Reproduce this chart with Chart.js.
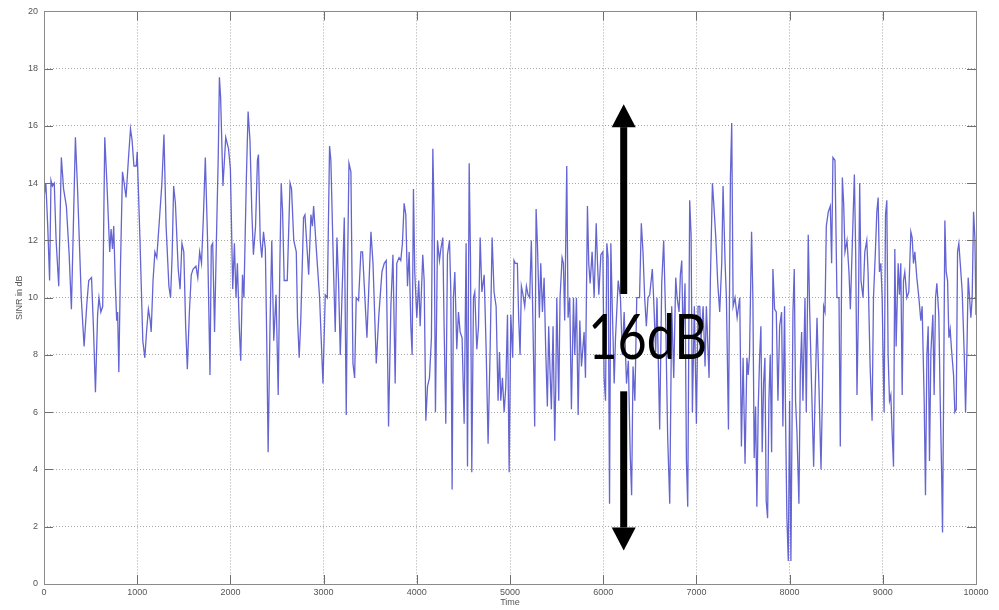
<!DOCTYPE html>
<html>
<head>
<meta charset="utf-8">
<title>SINR over time</title>
<script src="https://cdn.jsdelivr.net/npm/chart.js@4.4.1/dist/chart.umd.min.js"></script>
<style>
    html, body {
        margin: 0;
        padding: 0;
        background: #fff;
    }
    #sinrChart {
        display: block;
    }
</style>
</head>
<body>
<canvas id="sinrChart" width="999" height="610"></canvas>
<script>

// sample times and measured SINR (dB)
const times = [
    0, 20, 40, 60, 75, 90, 110, 130, 158, 186, 210, 240, 270, 294, 315, 337, 360, 400, 430, 460,
    480, 510, 530, 552, 575, 590, 610, 630, 652, 675, 705, 720, 735, 748, 765, 780, 790, 803, 820, 842,
    860, 880, 905, 928, 945, 965, 990, 1000, 1030, 1060, 1082, 1100, 1120, 1140, 1150, 1170, 1190, 1210, 1240, 1265,
    1287, 1310, 1340, 1358, 1375, 1391, 1410, 1440, 1460, 1480, 1500, 1520, 1538, 1560, 1580, 1600, 1630, 1650, 1670, 1690,
    1710, 1731, 1755, 1781, 1795, 1810, 1830, 1850, 1870, 1882, 1895, 1920, 1950, 1980, 2000, 2025, 2043, 2060, 2075, 2095,
    2111, 2130, 2145, 2170, 2190, 2210, 2230, 2247, 2270, 2290, 2301, 2320, 2337, 2355, 2375, 2390, 2405, 2425, 2444, 2465,
    2490, 2513, 2530, 2545, 2560, 2577, 2610, 2640, 2656, 2680, 2707, 2720, 2738, 2755, 2785, 2800, 2840, 2864, 2880, 2893,
    2928, 2957, 2993, 3018, 3040, 3064, 3078, 3107, 3125, 3143, 3160, 3179, 3197, 3222, 3243, 3258, 3272, 3293, 3315, 3333,
    3350, 3375, 3400, 3418, 3465, 3508, 3530, 3565, 3593, 3626, 3651, 3672, 3697, 3722, 3744, 3768, 3785, 3810, 3828, 3846,
    3864, 3882, 3900, 3918, 3936, 3950, 3964, 3978, 4000, 4021, 4036, 4064, 4079, 4097, 4115, 4136, 4157, 4172, 4186, 4200,
    4222, 4243, 4258, 4279, 4293, 4311, 4329, 4351, 4365, 4379, 4393, 4408, 4429, 4447, 4465, 4486, 4508, 4529, 4544, 4562,
    4576, 4590, 4608, 4622, 4644, 4662, 4680, 4698, 4723, 4744, 4765, 4787, 4808, 4829, 4851, 4872, 4887, 4901, 4919, 4937,
    4955, 4973, 4991, 5009, 5029, 5043, 5057, 5079, 5093, 5108, 5122, 5140, 5158, 5176, 5194, 5211, 5229, 5244, 5265, 5280,
    5294, 5315, 5330, 5348, 5366, 5383, 5401, 5415, 5430, 5444, 5462, 5480, 5491, 5502, 5523, 5537, 5559, 5573, 5587, 5609,
    5623, 5641, 5659, 5681, 5695, 5713, 5731, 5749, 5767, 5795, 5810, 5831, 5845, 5860, 5881, 5903, 5925, 5939, 5953, 5975,
    5996, 6010, 6025, 6039, 6053, 6068, 6082, 6097, 6118, 6132, 6161, 6185, 6205, 6225, 6250, 6270, 6290, 6305, 6320, 6340,
    6360, 6390, 6409, 6427, 6445, 6463, 6481, 6499, 6527, 6541, 6563, 6577, 6606, 6628, 6649, 6670, 6692, 6714, 6735, 6757,
    6778, 6793, 6814, 6828, 6843, 6857, 6878, 6893, 6907, 6928, 6943, 6957, 6978, 7000, 7018, 7036, 7050, 7072, 7093, 7107,
    7136, 7150, 7172, 7186, 7208, 7229, 7250, 7272, 7286, 7308, 7322, 7344, 7365, 7379, 7394, 7415, 7437, 7465, 7483, 7501,
    7522, 7542, 7556, 7570, 7592, 7606, 7620, 7635, 7649, 7663, 7678, 7692, 7706, 7721, 7735, 7749, 7764, 7778, 7792, 7807,
    7821, 7839, 7857, 7875, 7893, 7914, 7928, 7946, 7957, 7971, 7986, 8000, 8014, 8036, 8050, 8064, 8079, 8100, 8115, 8129,
    8143, 8165, 8179, 8200, 8215, 8236, 8258, 8272, 8294, 8315, 8337, 8351, 8365, 8380, 8394, 8415, 8437, 8451, 8465, 8487,
    8508, 8530, 8544, 8566, 8580, 8594, 8616, 8637, 8652, 8673, 8695, 8709, 8723, 8738, 8752, 8766, 8788, 8807, 8828, 8842,
    8864, 8885, 8900, 8918, 8936, 8950, 8964, 8979, 8993, 9007, 9014, 9029, 9043, 9057, 9072, 9086, 9100, 9115, 9129, 9143,
    9165, 9179, 9193, 9208, 9222, 9236, 9258, 9279, 9301, 9315, 9329, 9344, 9365, 9387, 9408, 9422, 9444, 9458, 9473, 9487,
    9501, 9516, 9537, 9551, 9566, 9580, 9601, 9616, 9630, 9641, 9652, 9666, 9680, 9695, 9709, 9723, 9737, 9759, 9773, 9788,
    9802, 9816, 9831, 9852, 9874, 9888, 9902, 9916, 9931, 9945, 9959, 9974, 9988, 10000
]

const sinr = [
    13.5, 14.0, 12.5, 10.6, 14.1, 13.9, 14.0, 12.0, 10.4, 14.9, 13.8, 13.2, 11.5, 9.6, 12.5, 15.6, 13.8, 10.0, 8.3, 9.8,
    10.6, 10.7, 9.0, 6.7, 9.4, 10.0, 9.5, 9.7, 15.6, 14.0, 11.6, 12.4, 11.7, 12.5, 10.5, 9.2, 9.5, 7.4, 11.0, 14.4,
    14.0, 13.5, 14.8, 15.9, 15.5, 14.6, 14.6, 15.1, 12.0, 8.5, 7.9, 8.8, 9.6, 9.2, 8.8, 10.6, 11.6, 11.4, 12.8, 14.0,
    15.7, 12.5, 10.4, 10.0, 11.5, 13.9, 13.3, 11.0, 10.3, 11.9, 11.6, 9.0, 7.5, 9.5, 10.8, 11.0, 11.1, 10.7, 11.6, 11.2,
    12.8, 14.9, 12.0, 7.3, 11.8, 11.9, 8.8, 12.0, 15.0, 17.7, 17.0, 13.9, 15.6, 15.2, 14.5, 10.3, 11.9, 10.0, 11.2, 9.0,
    7.8, 10.8, 10.0, 14.0, 16.5, 15.5, 13.0, 11.5, 12.5, 14.8, 15.0, 12.0, 11.4, 12.3, 11.7, 8.5, 4.6, 9.0, 12.0, 8.5,
    10.1, 6.6, 11.0, 14.0, 13.0, 10.6, 10.6, 14.0, 13.8, 12.0, 11.6, 9.3, 7.9, 9.2, 12.8, 12.9, 10.8, 12.9, 12.5, 13.2,
    11.4, 10.0, 7.0, 10.1, 10.0, 15.3, 14.8, 10.9, 8.8, 12.1, 10.6, 8.0, 10.0, 12.8, 5.9, 11.2, 14.7, 14.4, 7.7, 7.2,
    10.0, 9.9, 11.6, 11.6, 8.6, 12.3, 11.2, 7.7, 9.4, 10.9, 11.2, 11.3, 5.5, 9.7, 11.5, 7.0, 11.2, 11.4, 11.3, 11.9,
    13.3, 12.9, 10.4, 11.6, 9.0, 8.0, 13.8, 10.9, 9.3, 10.6, 9.0, 11.5, 10.6, 5.7, 6.9, 7.2, 8.6, 15.2, 12.9, 6.0,
    12.0, 11.3, 11.7, 12.1, 9.0, 5.6, 11.5, 12.0, 10.2, 3.3, 10.0, 10.9, 8.2, 9.5, 8.8, 8.6, 5.6, 11.9, 4.1, 14.7,
    11.4, 3.9, 10.0, 10.2, 8.2, 9.0, 12.1, 10.2, 10.8, 8.2, 4.9, 8.2, 12.1, 10.2, 9.7, 6.4, 8.1, 6.4, 7.2, 6.0,
    6.9, 9.4, 3.9, 9.4, 7.9, 11.3, 11.2, 11.2, 9.3, 8.0, 10.4, 10.1, 9.7, 10.4, 10.1, 10.0, 12.0, 9.5, 5.5, 13.1,
    11.9, 9.3, 11.2, 9.5, 10.7, 8.2, 6.2, 9.0, 7.4, 6.1, 9.0, 5.0, 6.9, 10.0, 6.4, 10.0, 11.4, 11.2, 9.2, 14.6,
    9.3, 10.0, 6.1, 10.0, 8.0, 10.0, 5.9, 9.2, 7.6, 8.8, 7.2, 13.2, 11.2, 10.5, 11.6, 10.0, 12.6, 11.2, 10.1, 11.5,
    11.6, 7.2, 6.4, 11.9, 11.4, 2.8, 11.9, 9.7, 7.0, 8.6, 10.6, 10.0, 8.0, 9.5, 7.0, 7.8, 4.5, 3.1, 7.6, 6.4,
    10.0, 10.0, 12.6, 11.6, 10.0, 9.0, 10.0, 10.1, 11.0, 10.0, 8.1, 10.0, 5.4, 10.5, 12.0, 9.3, 5.1, 2.8, 9.7, 7.2,
    10.7, 10.0, 9.5, 10.8, 11.3, 8.5, 10.5, 4.3, 2.7, 13.4, 12.2, 6.0, 9.7, 5.6, 9.7, 9.7, 8.5, 9.7, 7.6, 9.7,
    7.2, 10.6, 14.0, 13.3, 12.1, 10.5, 9.5, 11.2, 13.9, 11.2, 10.0, 5.4, 14.2, 16.1, 9.7, 10.0, 9.3, 10.0, 4.8, 7.9,
    4.2, 7.9, 7.3, 8.0, 12.3, 10.0, 4.4, 6.2, 2.7, 6.1, 7.9, 9.0, 4.6, 7.0, 7.9, 2.9, 2.3, 6.4, 8.0, 4.6,
    11.0, 9.6, 9.5, 6.4, 9.0, 9.5, 5.5, 9.7, 5.7, 2.3, 0.8, 6.4, 0.8, 9.5, 11.0, 6.4, 5.3, 2.8, 7.4, 8.8,
    6.4, 10.0, 6.0, 12.2, 9.6, 6.9, 4.1, 6.4, 9.3, 6.9, 4.0, 6.4, 9.7, 9.5, 12.5, 13.0, 13.2, 11.2, 14.9, 14.8,
    10.0, 10.0, 4.8, 14.2, 13.3, 11.6, 12.0, 10.9, 9.6, 11.9, 14.3, 11.6, 6.6, 9.5, 14.0, 10.6, 10.0, 11.6, 12.0, 10.9,
    7.6, 5.7, 10.0, 11.4, 13.0, 13.5, 10.9, 11.2, 10.0, 7.2, 6.0, 12.9, 13.4, 8.0, 6.4, 6.6, 5.3, 4.1, 11.7, 8.3,
    11.2, 10.1, 11.2, 6.6, 10.6, 10.9, 10.0, 10.2, 12.3, 12.1, 11.2, 11.6, 10.7, 10.0, 9.2, 9.7, 6.4, 3.1, 8.0, 9.0,
    4.3, 8.1, 9.4, 6.6, 10.0, 10.5, 9.4, 6.4, 4.1, 1.8, 6.4, 12.7, 10.9, 10.6, 8.6, 8.9, 8.2, 7.3, 6.0, 6.1,
    11.6, 11.9, 11.2, 10.2, 8.0, 6.0, 8.0, 10.7, 10.0, 9.3, 10.0, 13.0, 12.1, 9.4
]

const xTicks = [0, 1000, 2000, 3000, 4000, 5000, 6000, 7000, 8000, 9000, 10000]
const yTicks = [0, 2, 4, 6, 8, 10, 12, 14, 16, 18, 20]

// spread marker: double arrow with a label in the middle
const spreadLabel = "16dB"
const spreadAt = 6220
const spreadTop = 16.76
const spreadBottom = 1.17
const spreadGap = [6.73, 10.13]
const spreadTextAt = 6477
const spreadTextBase = 7.86


// white page, box round the axes and inward tick marks
const framePlugin = {
    id: "frame",

    beforeDraw(chart) {
        const ctx = chart.ctx
        ctx.save()
        ctx.fillStyle = "#fff"
        ctx.fillRect(0, 0, chart.width, chart.height)
        ctx.restore()
    },

    afterDraw(chart) {
        const { ctx, chartArea } = chart
        const { left, right, top, bottom } = chartArea
        const xs = chart.scales.x
        const ys = chart.scales.y
        const len = 9

        ctx.save()
        ctx.strokeStyle = "#6e6e6e"
        ctx.lineWidth = 1
        ctx.beginPath()

        xTicks.forEach(v => {
            const px = Math.round(xs.getPixelForValue(v)) + 0.5
            ctx.moveTo(px, bottom)
            ctx.lineTo(px, bottom - len)
            ctx.moveTo(px, top)
            ctx.lineTo(px, top + len)
        })

        yTicks.forEach(v => {
            const py = Math.round(ys.getPixelForValue(v)) + 0.5
            ctx.moveTo(left, py)
            ctx.lineTo(left + len, py)
            ctx.moveTo(right, py)
            ctx.lineTo(right - len, py)
        })

        ctx.stroke()

        ctx.strokeStyle = "#8a8a8a"
        ctx.strokeRect(
            Math.round(left) + 0.5,
            Math.round(top) + 0.5,
            Math.round(right - left),
            Math.round(bottom - top)
        )
        ctx.restore()
    }
}

const spreadPlugin = {
    id: "spread",

    afterDatasetsDraw(chart) {
        const ctx = chart.ctx
        const xs = chart.scales.x
        const ys = chart.scales.y

        const cx = xs.getPixelForValue(spreadAt)
        const yTop = ys.getPixelForValue(spreadTop)
        const yBottom = ys.getPixelForValue(spreadBottom)
        const gapLow = ys.getPixelForValue(spreadGap[0])
        const gapHigh = ys.getPixelForValue(spreadGap[1])
        const head = 23
        const halfHead = 12

        ctx.save()
        ctx.fillStyle = "#000"

        // shafts
        ctx.fillRect(cx - 3.5, yTop + head, 7, gapHigh - yTop - head)
        ctx.fillRect(cx - 3.5, gapLow, 7, yBottom - head - gapLow)

        // heads
        ctx.beginPath()
        ctx.moveTo(cx, yTop)
        ctx.lineTo(cx + halfHead, yTop + head)
        ctx.lineTo(cx - halfHead, yTop + head)
        ctx.closePath()
        ctx.fill()

        ctx.beginPath()
        ctx.moveTo(cx, yBottom)
        ctx.lineTo(cx + halfHead, yBottom - head)
        ctx.lineTo(cx - halfHead, yBottom - head)
        ctx.closePath()
        ctx.fill()

        // label
        ctx.font = "61px Lato"
        ctx.textAlign = "center"
        ctx.textBaseline = "alphabetic"
        ctx.fillText(
            spreadLabel,
            xs.getPixelForValue(spreadTextAt),
            ys.getPixelForValue(spreadTextBase),
            119
        )
        ctx.restore()
    }
}

const tickFont = {
    family: "'Liberation Sans', Arial, sans-serif",
    size: 9
}

new Chart(
    document.getElementById("sinrChart"),
    {
        type: "line",

        data: {
            datasets: [{
                label: "SINR",
                data: times.map((t, i) => ({ x: t, y: sinr[i] })),
                borderColor: "rgba(66, 66, 200, 0.82)",
                borderWidth: 1.3,
                pointRadius: 0,
                tension: 0,
                fill: false
            }]
        },

        options: {
            responsive: false,
            animation: false,
            devicePixelRatio: 1,

            layout: {
                padding: {
                    left: 0,
                    right: 23,
                    top: 9,
                    bottom: 0
                }
            },

            plugins: {
                legend: {
                    display: false
                },
                tooltip: {
                    enabled: false
                }
            },

            scales: {
                x: {
                    type: "linear",
                    min: 0,
                    max: 10000,
                    afterBuildTicks: scale => {
                        scale.ticks = xTicks.map(v => ({ value: v }))
                    },
                    afterFit: scale => {
                        scale.height = 26
                    },
                    ticks: {
                        color: "#555",
                        font: tickFont,
                        padding: 3,
                        maxRotation: 0,
                        autoSkip: false,
                        callback: value => String(value)
                    },
                    grid: {
                        color: "#a8a8a8",
                        drawTicks: false
                    },
                    border: {
                        display: false,
                        dash: [1, 2]
                    },
                    title: {
                        display: true,
                        text: "Time",
                        color: "#555",
                        font: tickFont,
                        padding: { top: 0, bottom: 2 }
                    }
                },

                y: {
                    min: 0,
                    max: 20,
                    afterBuildTicks: scale => {
                        scale.ticks = yTicks.map(v => ({ value: v }))
                    },
                    afterFit: scale => {
                        scale.width = 44
                    },
                    ticks: {
                        color: "#555",
                        font: tickFont,
                        padding: 6,
                        autoSkip: false,
                        callback: value => String(value)
                    },
                    grid: {
                        color: "#a8a8a8",
                        drawTicks: false
                    },
                    border: {
                        display: false,
                        dash: [1, 2]
                    },
                    title: {
                        display: true,
                        text: "SINR in dB",
                        color: "#555",
                        font: tickFont,
                        padding: { top: 14, bottom: 0 }
                    }
                }
            }
        },

        plugins: [framePlugin, spreadPlugin]
    }
)
</script>
</body>
</html>
